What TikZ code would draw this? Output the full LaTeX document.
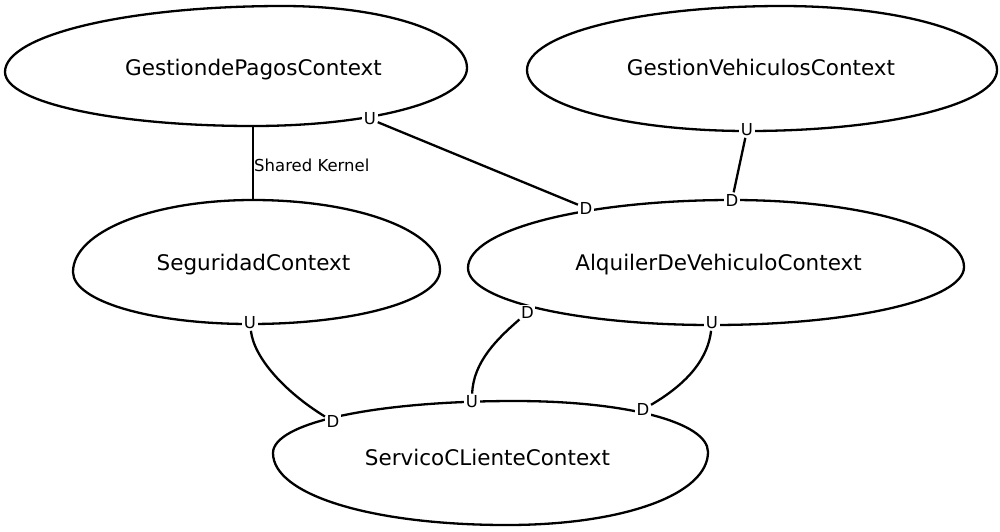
\documentclass[tikz,border=0pt]{standalone}
\usepackage{fontspec}
\setmainfont{DejaVu Sans}
\usetikzlibrary{calc}
\tikzset{
  shapeline/.style={line width=2.3pt, line join=round},
  ctx/.style={font=\fontsize{21.5}{24}\selectfont, inner sep=0pt, anchor=base},
  ud/.style={font=\fontsize{16.5}{18}\selectfont, fill=white, inner sep=1.5pt},
  conn/.style={line width=2.3pt},
  edgelabel/.style={font=\fontsize{16.5}{18}\selectfont, inner sep=0pt, anchor=base west},
}
% #1 roundness, #2 left, #3 top, #4 right, #5 bottom
\newcommand\eggpath[5]{%
 \draw[shapeline] (#2) .. controls ($(#2)!#1!(#2|-#3)$) and ($(#3)!#1!(#2|-#3)$) .. (#3)
   .. controls ($(#3)!#1!(#4|-#3)$) and ($(#4)!#1!(#4|-#3)$) .. (#4)
   .. controls ($(#4)!#1!(#4|-#5)$) and ($(#5)!#1!(#4|-#5)$) .. (#5)
   .. controls ($(#5)!#1!(#2|-#5)$) and ($(#2)!#1!(#2|-#5)$) .. (#2) -- cycle;}
\begin{document}
\begin{tikzpicture}[x=1pt,y=-1pt]
\useasboundingbox (0,0) rectangle (1000,531);
% outline points
\coordinate (pagL) at (5,72);   \coordinate (pagT) at (283,6);
\coordinate (pagR) at (467,68); \coordinate (pagB) at (253,126);
\coordinate (vehL) at (527,70); \coordinate (vehT) at (782,6);
\coordinate (vehR) at (997,70); \coordinate (vehB) at (748,131);
\coordinate (segL) at (73,272); \coordinate (segT) at (253,200);
\coordinate (segR) at (440,270);\coordinate (segB) at (250,324);
\coordinate (alqL) at (468,268);\coordinate (alqT) at (732,200);
\coordinate (alqR) at (964,267);\coordinate (alqB) at (712,325);
\coordinate (serL) at (273,453);\coordinate (serT) at (515,401);
\coordinate (serR) at (708,452);\coordinate (serB) at (507,525);
% context shapes
\eggpath{0.56}{pagL}{pagT}{pagR}{pagB}
\eggpath{0.56}{vehL}{vehT}{vehR}{vehB}
\eggpath{0.56}{segL}{segT}{segR}{segB}
\eggpath{0.56}{alqL}{alqT}{alqR}{alqB}
\eggpath{0.58}{serL}{serT}{serR}{serB}
% context names
\node[ctx] (pagos) at (253.5,75) {GestiondePagosContext};
\node[ctx] (vehic) at (761,75) {GestionVehiculosContext};
\node[ctx] (segur) at (253.5,270) {SeguridadContext};
\node[ctx] (alqui) at (718.5,270) {AlquilerDeVehiculoContext};
\node[ctx] (servi) at (487.5,465) {ServicoCLienteContext};
% U / D labels
\node[ud] (uPag) at (370,119) {U};
\node[ud] (dAlqA) at (586,208) {D};
\node[ud] (uVeh) at (747,130) {U};
\node[ud] (dAlqB) at (732,200) {D};
\node[ud] (uSeg) at (250,323) {U};
\node[ud] (dSerA) at (333,421.5) {D};
\node[ud] (dAlqC) at (527.5,312.5) {D};
\node[ud] (uSerA) at (472,401.5) {U};
\node[ud] (uAlq) at (712,323) {U};
\node[ud] (dSerB) at (643,409.5) {D};
% connectors
\draw[conn] (pagB) -- (segT);
\node[edgelabel] (sk) at (254,171) {Shared Kernel};
\draw[conn] (uPag) -- (dAlqA);
\draw[conn] (uVeh) -- (dAlqB);
\draw[conn] (uSeg) .. controls (254,358) and (285,392) .. (dSerA);
\draw[conn] (dAlqC) .. controls (498,338) and (473,362) .. (uSerA);
\draw[conn] (uAlq) .. controls (708,357) and (690,382) .. (dSerB);
\end{tikzpicture}
\end{document}
